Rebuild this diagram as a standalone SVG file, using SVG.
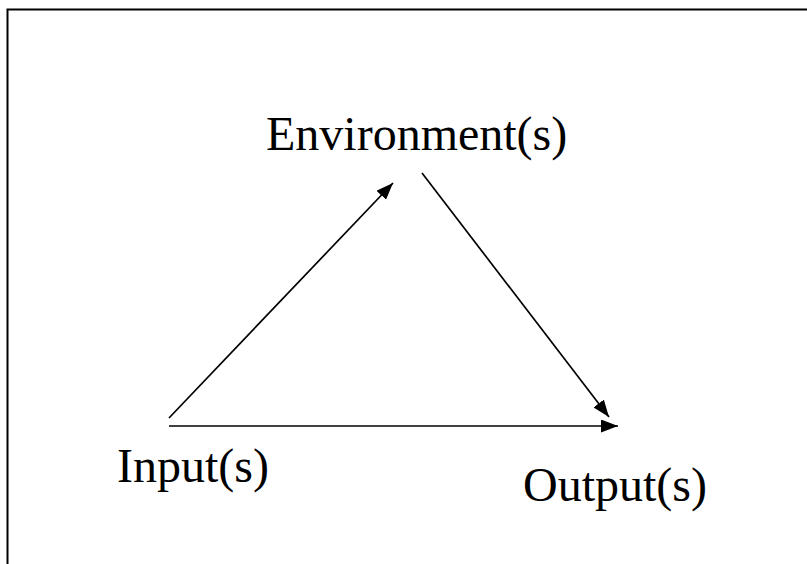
<svg xmlns="http://www.w3.org/2000/svg" width="807" height="564" viewBox="0 0 807 564">
<style>
.lbl{font-family:"Liberation Serif","Times New Roman",serif;font-size:48px;fill:#000}
.conn{stroke:#000;stroke-width:1.7;fill:none}
</style>
<defs>
<marker id="ah" markerUnits="userSpaceOnUse" markerWidth="17" markerHeight="13" viewBox="0 0 17 13" refX="17" refY="6.5" orient="auto">
<path d="M0,0 L17,6.5 L0,13 Z" fill="#000"/>
</marker>
</defs>
<rect x="0" y="0" width="807" height="564" fill="#fff"/>
<rect x="7.5" y="9.5" width="830" height="600" fill="none" stroke="#000" stroke-width="2"/>
<g id="environment"><text class="lbl" x="266" y="150">Environment(s)</text></g>
<g id="input"><text class="lbl" x="117" y="482">Input(s)</text></g>
<g id="output"><text class="lbl" x="523" y="501">Output(s)</text></g>
<g id="connectors">
<line class="conn" x1="169" y1="418" x2="393" y2="183" marker-end="url(#ah)"/>
<line class="conn" x1="422" y1="173" x2="609" y2="417" marker-end="url(#ah)"/>
<line class="conn" x1="169" y1="426" x2="618" y2="426" marker-end="url(#ah)"/>
</g>
</svg>
